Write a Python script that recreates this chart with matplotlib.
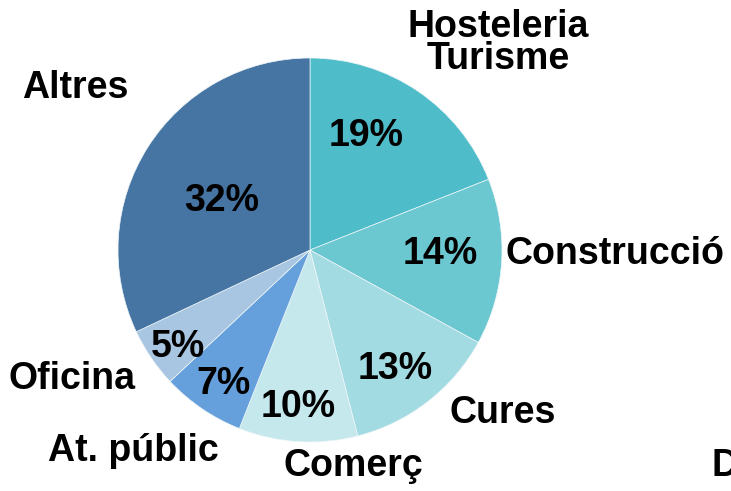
import matplotlib.pyplot as plt

sectors = ['Hosteleria\nTurisme', 'Construcció', 'Cures', 'Comerç',
           'At. públic', 'Oficina', 'Altres']
shares = [19, 14, 13, 10, 7, 5, 32]
colors = ['#4FBCC9', '#6BC7D0', '#A3DBE3', '#C5E8EC',
          '#66A0DC', '#A8C6E2', '#4674A3']

# pixel positions of texts (as in the reference image)
name_pos = [(498, 43), (615, 254), (503, 413), (353, 466),
            (133, 451), (72, 379), (75, 88)]
pct_pos = [(366, 136), (440, 254), (395, 369), (298, 407),
           (224, 384), (178, 347), (222, 201)]

W, H = 731, 491
cx, cy, R = 310, 250, 192


def to_data(p):
    return (p[0] - cx) / R, (cy - p[1]) / R


plt.rcParams['font.family'] = ['Liberation Sans', 'DejaVu Sans']

fig = plt.figure(figsize=(W / 100, H / 100), dpi=100)
ax = fig.add_axes([0, 0, 1, 1])
ax.pie(shares, colors=colors, startangle=90, counterclock=False, radius=1,
       wedgeprops=dict(linewidth=0.5, edgecolor='#eef6f8'))
ax.set_xlim(-cx / R, (W - cx) / R)
ax.set_ylim(-(H - cy) / R, cy / R)
ax.set_aspect('auto')
ax.axis('off')

for name, val, pn, pp in zip(sectors, shares, name_pos, pct_pos):
    x, y = to_data(pn)
    ax.text(x, y, name, ha='center', va='center', fontsize=27,
            fontweight='bold', linespacing=0.88)
    x, y = to_data(pp)
    ax.text(x, y, f'{val}%', ha='center', va='center', fontsize=27,
            fontweight='bold')

# partially visible text at the right edge (cut off in the reference too)
x, y = to_data((712, 466))
ax.text(x, y, 'D', ha='left', va='center', fontsize=27, fontweight='bold')

fig.savefig('out.png', dpi=100)
